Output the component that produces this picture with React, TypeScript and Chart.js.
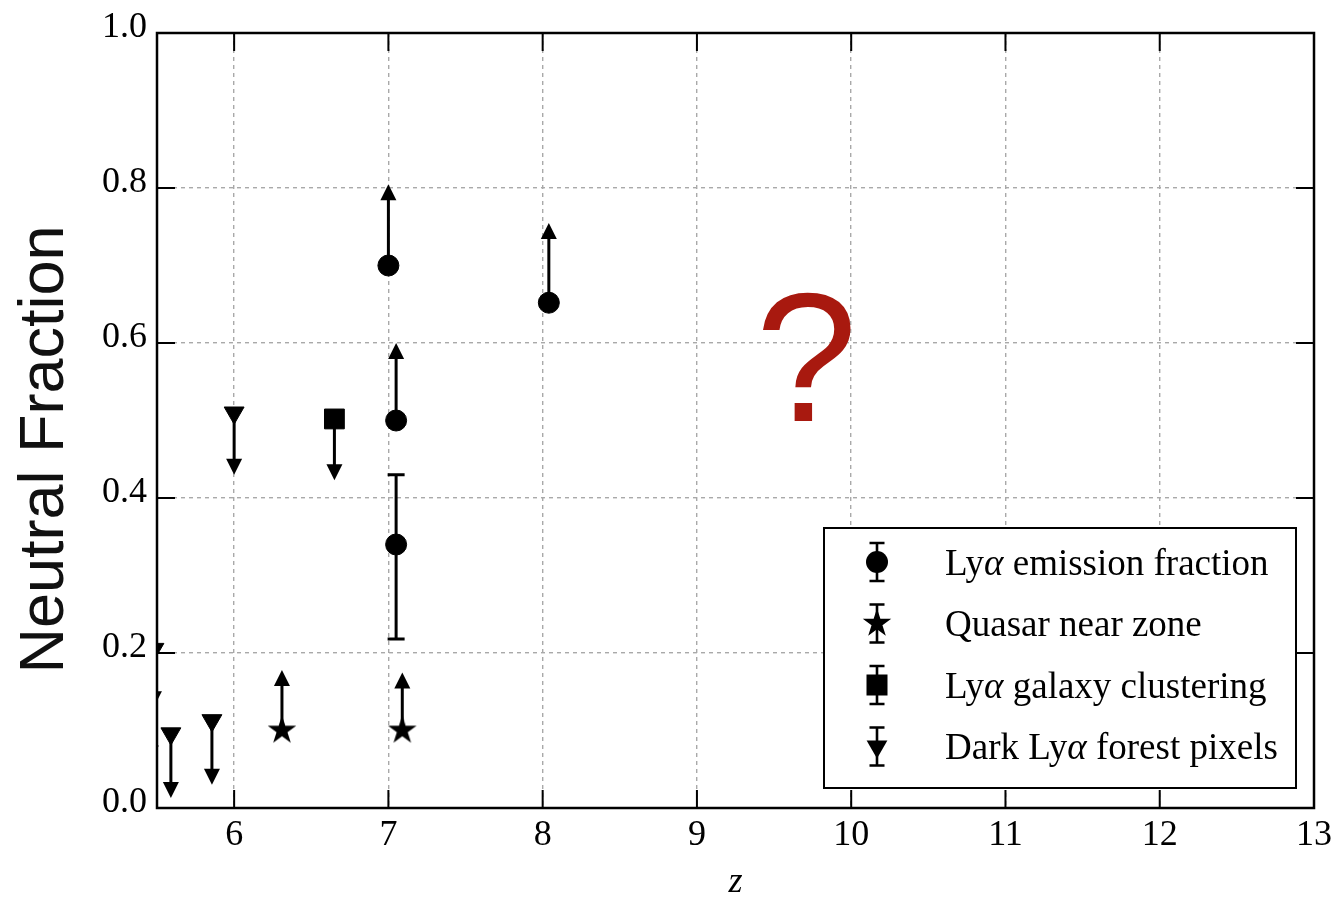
import React, { useEffect, useRef } from 'react';
import { Chart, registerables } from 'chart.js';

Chart.register(...registerables);

// ---------- data ----------
const X_TICKS = [6, 7, 8, 9, 10, 11, 12, 13];
const Y_TICKS = [0, 0.2, 0.4, 0.6, 0.8, 1.0];
const X_MIN = 5.5;
const X_MAX = 13;
const Y_MIN = 0;
const Y_MAX = 1;

const X_TITLE = 'z';
const Y_TITLE = 'Neutral Fraction';
const ANNOTATION_TEXT = '?';
const ANNOTATION_Z = 9.71;
const ANNOTATION_XHI = 0.5;

const LEGEND_LABELS = [
  'Lyα emission fraction',
  'Quasar near zone',
  'Lyα galaxy clustering',
  'Dark Lyα forest pixels',
];

// Lyα emission fraction (circles)
const emissionZ = [7.0, 8.04, 7.05, 7.05];
const emissionXHI = [0.7, 0.652, 0.5, 0.34];
const emissionLimit = [0.805, 0.755, 0.6, null];
const emissionErrLow = [null, null, null, 0.218];
const emissionErrHigh = [null, null, null, 0.43];

// Quasar near zone (stars)
const quasarZ = [6.31, 7.09];
const quasarXHI = [0.1, 0.1];
const quasarLimit = [0.178, 0.175];

// Lyα galaxy clustering (square)
const clusteringZ = [6.65];
const clusteringXHI = [0.502];
const clusteringLimit = [0.423];

// Dark Lyα forest pixels (down triangles)
const darkZ = [5.46, 5.48, 5.59, 5.856, 6.0];
const darkXHI = [0.135, 0.205, 0.096, 0.113, 0.51];
const darkLimit = [0.06, 0.13, 0.013, 0.03, 0.43];

// ---------- helpers ----------
const SERIF = '"Liberation Serif", "Times New Roman", serif';
const SANS = '"Liberation Sans", Arial, sans-serif';

function zip(xs: number[], ys: number[]) {
  return xs.map((x, i) => ({ x, y: ys[i] }));
}

function starPath(ctx: CanvasRenderingContext2D, cx: number, cy: number, R: number) {
  const r = R * 0.382;
  ctx.beginPath();
  for (let i = 0; i < 10; i++) {
    const rad = (Math.PI / 5) * i - Math.PI / 2;
    const rr = i % 2 === 0 ? R : r;
    const px = cx + Math.cos(rad) * rr;
    const py = cy + Math.sin(rad) * rr;
    if (i === 0) ctx.moveTo(px, py);
    else ctx.lineTo(px, py);
  }
  ctx.closePath();
}

function makeStar(R: number) {
  const c = document.createElement('canvas');
  const s = Math.ceil(R * 2 + 4);
  c.width = s;
  c.height = s;
  const g = c.getContext('2d')!;
  g.fillStyle = '#000';
  starPath(g, s / 2, s / 2, R);
  g.fill();
  return c;
}

function drawArrow(ctx: CanvasRenderingContext2D, px: number, y0: number, y1: number) {
  const dir = Math.sign(y1 - y0) || 1;
  const head = 16;
  const half = 8;
  ctx.beginPath();
  ctx.moveTo(px, y0);
  ctx.lineTo(px, y1 - dir * head * 0.8);
  ctx.stroke();
  ctx.beginPath();
  ctx.moveTo(px, y1);
  ctx.lineTo(px - half, y1 - dir * head);
  ctx.lineTo(px + half, y1 - dir * head);
  ctx.closePath();
  ctx.fill();
}

function drawErr(ctx: CanvasRenderingContext2D, px: number, yLo: number, yHi: number, cap: number) {
  ctx.beginPath();
  ctx.moveTo(px, yLo);
  ctx.lineTo(px, yHi);
  ctx.moveTo(px - cap, yLo);
  ctx.lineTo(px + cap, yLo);
  ctx.moveTo(px - cap, yHi);
  ctx.lineTo(px + cap, yHi);
  ctx.stroke();
}

function drawLegendMarker(ctx: CanvasRenderingContext2D, kind: string, x: number, y: number) {
  ctx.fillStyle = '#000';
  if (kind === 'circle') {
    ctx.beginPath();
    ctx.arc(x, y, 11, 0, Math.PI * 2);
    ctx.fill();
  } else if (kind === 'star') {
    starPath(ctx, x, y, 15);
    ctx.fill();
  } else if (kind === 'rect') {
    ctx.fillRect(x - 10.5, y - 10.5, 21, 21);
  } else if (kind === 'tri') {
    const r = 12;
    ctx.beginPath();
    ctx.moveTo(x, y + r);
    ctx.lineTo(x - r * 0.866, y - r / 2);
    ctx.lineTo(x + r * 0.866, y - r / 2);
    ctx.closePath();
    ctx.fill();
  }
}

function drawMixedText(ctx: CanvasRenderingContext2D, label: string, x: number, y: number, size: number) {
  const parts = label.split('α');
  let cx = x;
  parts.forEach((part, i) => {
    ctx.font = `${size}px ${SERIF}`;
    ctx.fillText(part, cx, y);
    cx += ctx.measureText(part).width;
    if (i < parts.length - 1) {
      ctx.font = `italic ${size}px ${SERIF}`;
      ctx.fillText('α', cx, y);
      cx += ctx.measureText('α').width;
    }
  });
}

const MARKER_KINDS = ['circle', 'star', 'rect', 'tri'];

export default function App() {
  const ref = useRef<HTMLCanvasElement>(null);

  useEffect(() => {
    if (!ref.current) return;
    const starImg = makeStar(15);

    const overlay = {
      id: 'overlay',
      beforeDatasetsDraw(chart: any) {
        const { ctx, chartArea: a, scales } = chart;
        const xs = scales.x;
        const ys = scales.y;
        ctx.save();
        ctx.beginPath();
        ctx.rect(a.left, a.top, a.right - a.left, a.bottom - a.top);
        ctx.clip();
        ctx.strokeStyle = '#000';
        ctx.fillStyle = '#000';
        ctx.lineWidth = 3;
        chart.data.datasets.forEach((ds: any) => {
          ds.data.forEach((p: any, i: number) => {
            const px = xs.getPixelForValue(p.x);
            const py = ys.getPixelForValue(p.y);
            const lim = ds.arrowTo ? ds.arrowTo[i] : null;
            if (lim != null) drawArrow(ctx, px, py, ys.getPixelForValue(lim));
            const lo = ds.errLow ? ds.errLow[i] : null;
            const hi = ds.errHigh ? ds.errHigh[i] : null;
            if (lo != null && hi != null) drawErr(ctx, px, ys.getPixelForValue(lo), ys.getPixelForValue(hi), 8.5);
          });
        });
        ctx.restore();
      },
      afterDraw(chart: any) {
        const { ctx, chartArea: a, scales } = chart;
        const xs = scales.x;
        const ys = scales.y;
        ctx.save();
        // inward ticks
        ctx.strokeStyle = '#000';
        ctx.lineWidth = 2;
        const tl = 18;
        ctx.beginPath();
        X_TICKS.forEach((v) => {
          const px = xs.getPixelForValue(v);
          ctx.moveTo(px, a.bottom);
          ctx.lineTo(px, a.bottom - tl);
          ctx.moveTo(px, a.top);
          ctx.lineTo(px, a.top + tl);
        });
        Y_TICKS.forEach((v) => {
          const py = ys.getPixelForValue(v);
          ctx.moveTo(a.left, py);
          ctx.lineTo(a.left + tl, py);
          ctx.moveTo(a.right, py);
          ctx.lineTo(a.right - tl, py);
        });
        ctx.stroke();
        // frame
        ctx.lineWidth = 2.5;
        ctx.strokeRect(a.left, a.top, a.right - a.left, a.bottom - a.top);

        // question mark annotation
        ctx.fillStyle = '#a8190f';
        ctx.font = `183px ${SANS}`;
        ctx.textAlign = 'center';
        ctx.textBaseline = 'alphabetic';
        ctx.fillText(ANNOTATION_TEXT, xs.getPixelForValue(ANNOTATION_Z), ys.getPixelForValue(ANNOTATION_XHI));

        // legend
        const bw = 472;
        const bh = 260;
        const bx = a.right - 18 - bw;
        const by = a.bottom - 20 - bh;
        ctx.fillStyle = '#fff';
        ctx.fillRect(bx, by, bw, bh);
        ctx.strokeStyle = '#000';
        ctx.lineWidth = 2;
        ctx.strokeRect(bx, by, bw, bh);
        ctx.textAlign = 'left';
        ctx.textBaseline = 'alphabetic';
        LEGEND_LABELS.forEach((label, i) => {
          const cy = by + 34 + i * 61.5;
          const mx = bx + 53;
          ctx.strokeStyle = '#000';
          ctx.lineWidth = 2.6;
          drawErr(ctx, mx, cy - 19, cy + 19, 7.5);
          drawLegendMarker(ctx, MARKER_KINDS[i], mx, cy);
          ctx.fillStyle = '#000';
          drawMixedText(ctx, label, bx + 121, cy + 12.5, 37);
        });

        // y title
        ctx.fillStyle = '#111';
        ctx.font = `63px ${SANS}`;
        ctx.textAlign = 'center';
        ctx.textBaseline = 'alphabetic';
        ctx.translate(63, (a.top + a.bottom) / 2 + 29);
        ctx.rotate(-Math.PI / 2);
        ctx.fillText(Y_TITLE, 0, 0);
        ctx.restore();
      },
    };

    const common = { borderColor: '#000', backgroundColor: '#000', borderWidth: 1, clip: 0 };

    const chart = new Chart(ref.current, {
      type: 'scatter',
      data: {
        datasets: [
          {
            ...common,
            label: LEGEND_LABELS[0],
            data: zip(emissionZ, emissionXHI),
            pointStyle: 'circle',
            pointRadius: 10.5,
            arrowTo: emissionLimit,
            errLow: emissionErrLow,
            errHigh: emissionErrHigh,
          } as any,
          {
            ...common,
            label: LEGEND_LABELS[1],
            data: zip(quasarZ, quasarXHI),
            pointStyle: starImg,
            pointRadius: 15,
            arrowTo: quasarLimit,
          } as any,
          {
            ...common,
            label: LEGEND_LABELS[2],
            data: zip(clusteringZ, clusteringXHI),
            pointStyle: 'rect',
            pointRadius: 14,
            arrowTo: clusteringLimit,
          } as any,
          {
            ...common,
            label: LEGEND_LABELS[3],
            data: zip(darkZ, darkXHI),
            pointStyle: 'triangle',
            pointRotation: 180,
            pointRadius: 11.5,
            arrowTo: darkLimit,
          } as any,
        ],
      },
      options: {
        animation: false,
        responsive: true,
        maintainAspectRatio: false,
        layout: { padding: { top: 33, right: 21, left: 0, bottom: 0 } },
        plugins: { legend: { display: false }, tooltip: { enabled: false } },
        scales: {
          x: {
            type: 'linear',
            min: X_MIN,
            max: X_MAX,
            afterBuildTicks: (s: any) => {
              s.ticks = X_TICKS.map((v) => ({ value: v }));
            },
            afterFit: (s: any) => {
              s.height = 99;
            },
            grid: { color: '#a9a9a9', lineWidth: 1.4, drawTicks: false },
            border: { display: false, dash: [4, 4] },
            ticks: {
              font: { family: SERIF, size: 36 },
              color: '#000',
              padding: 6,
              maxRotation: 0,
              callback: (v: any) => String(v),
            },
            title: {
              display: true,
              text: X_TITLE,
              font: { family: SERIF, size: 36, style: 'italic' },
              color: '#000',
              padding: { top: 0, bottom: 3 },
            },
          },
          y: {
            type: 'linear',
            min: Y_MIN,
            max: Y_MAX,
            afterBuildTicks: (s: any) => {
              s.ticks = Y_TICKS.map((v) => ({ value: v }));
            },
            afterFit: (s: any) => {
              s.width = 157;
            },
            grid: { color: '#a9a9a9', lineWidth: 1.4, drawTicks: false },
            border: { display: false, dash: [4, 4] },
            ticks: {
              font: { family: SERIF, size: 36 },
              color: '#000',
              padding: 10,
              labelOffset: -5,
              callback: (v: any) => Number(v).toFixed(1),
            },
          },
        },
      },
      plugins: [overlay],
    } as any);
    return () => chart.destroy();
  }, []);

  return (
    <div style={{ position: 'fixed', left: 0, top: 0, width: 1338, height: 907, background: '#fff' }}>
      <canvas ref={ref} />
    </div>
  );
}
